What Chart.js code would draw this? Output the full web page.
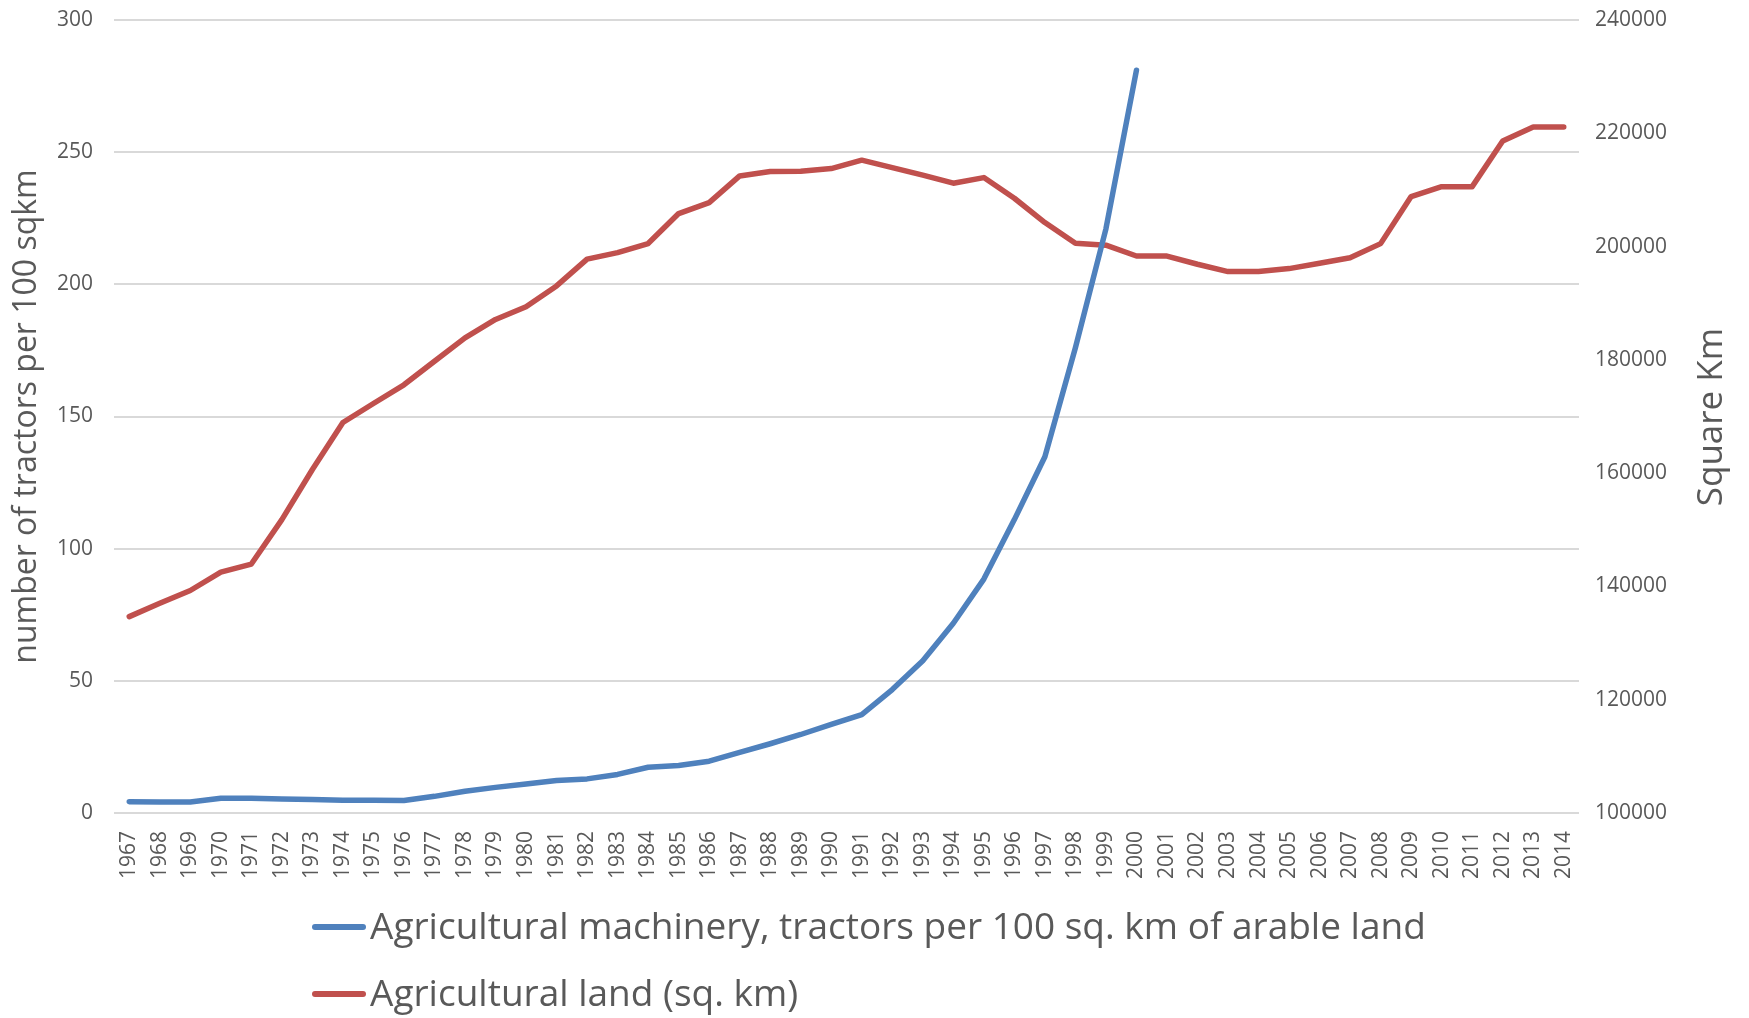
<!DOCTYPE html>
<html>
<head>
<meta charset="utf-8">
<title>Agricultural machinery and agricultural land</title>
<script src="https://cdn.jsdelivr.net/npm/chart.js@4.4.1/dist/chart.umd.min.js"></script>
<style>
  html, body { margin: 0; padding: 0; background: #fff; }
  #chart-wrap { position: relative; width: 1749px; height: 1018px; }
</style>
</head>
<body>
<div id="chart-wrap">
  <canvas id="js-chart-tractors"></canvas>
</div>
<script>
// Chart data
const years = [
  "1967", "1968", "1969", "1970", "1971", "1972", "1973", "1974", "1975", "1976",
  "1977", "1978", "1979", "1980", "1981", "1982", "1983", "1984", "1985", "1986",
  "1987", "1988", "1989", "1990", "1991", "1992", "1993", "1994", "1995", "1996",
  "1997", "1998", "1999", "2000", "2001", "2002", "2003", "2004", "2005", "2006",
  "2007", "2008", "2009", "2010", "2011", "2012", "2013", "2014"
];

// tractors per 100 sq. km of arable land (no data after 2000)
const tractors = [
  4.3, 4.2, 4.2, 5.6, 5.6, 5.3, 5.1, 4.8, 4.8, 4.7,
  6.3, 8.2, 9.7, 11.0, 12.3, 12.9, 14.6, 17.3, 18.0, 19.6,
  22.9, 26.2, 29.7, 33.5, 37.2, 46.7, 57.6, 71.8, 88.5, 111,
  134.8, 176, 221, 281, null, null, null, null, null, null,
  null, null, null, null, null, null, null, null
];

// agricultural land, sq. km
const agriLand = [
  134670, 137040, 139280, 142530, 143950, 151800, 160650, 168940, 172300, 175600,
  179750, 183870, 187130, 189370, 193050, 197780, 198930, 200540, 205830, 207760,
  212470, 213240, 213310, 213770, 215250, 213950, 212600, 211190, 212180, 208530,
  204240, 200580, 200250, 198340, 198320, 196880, 195590, 195590, 196110, 197050,
  198030, 200520, 208820, 210580, 210580, 218650, 221130, 221130
];

const seriesLabels = [
  "Agricultural machinery, tractors per 100 sq. km of arable land",
  "Agricultural land (sq. km)"
];

const leftTicks = { min: 0, max: 300, step: 50 };
const rightTicks = { min: 100000, max: 240000, step: 20000 };

const leftTitle = "number of tractors per 100 sqkm";
const rightTitle = "Square Km";

const textColor = "#595959";
const fontFamily = '"Open Sans", "Noto Sans", sans-serif';

// Right axis title reads bottom-to-top, which Chart.js doesn't do for right axes
const rightTitlePlugin = {
  id: "rightTitle",
  afterDraw(chart) {
    const ctx = chart.ctx;
    ctx.save();
    ctx.translate(1712, 417);
    ctx.rotate(-Math.PI / 2);
    ctx.font = "35px " + fontFamily;
    ctx.fillStyle = textColor;
    ctx.textAlign = "center";
    ctx.textBaseline = "middle";
    ctx.fillText(rightTitle, 0, 0);
    ctx.restore();
  },
};

// Legend stacked in two left-aligned rows below the axis
const stackedLegendPlugin = {
  id: "stackedLegend",
  afterDraw(chart) {
    const ctx = chart.ctx;
    const rows = [927, 994];
    ctx.save();
    ctx.font = "37px " + fontFamily;
    ctx.textBaseline = "middle";
    ctx.textAlign = "left";
    chart.data.datasets.forEach((ds, i) => {
      const y = rows[i];
      ctx.strokeStyle = ds.borderColor;
      ctx.lineWidth = 6;
      ctx.lineCap = "round";
      ctx.beginPath();
      ctx.moveTo(315, y);
      ctx.lineTo(363, y);
      ctx.stroke();
      ctx.fillStyle = textColor;
      ctx.fillText(ds.label, 370, y + 1);
    });
    ctx.restore();
  },
};

// fixed scale sizes so the plot area lands where the original one is
function fitVertical(width) {
  return (scale) => {
    scale.width = width;
    scale.paddingTop = 0;
    scale.paddingBottom = 0;
  };
}

const chartCon = document.getElementById("js-chart-tractors");

new Chart(chartCon, {
  type: "line",
  data: {
    labels: years,
    datasets: [
      {
        label: seriesLabels[0],
        data: tractors,
        yAxisID: "y",
        borderColor: "#4F81BD",
        backgroundColor: "#4F81BD",
        borderWidth: 5.5,
        pointRadius: 0,
        tension: 0,
        borderCapStyle: "round",
        borderJoinStyle: "round",
      },
      {
        label: seriesLabels[1],
        data: agriLand,
        yAxisID: "y1",
        borderColor: "#C0504D",
        backgroundColor: "#C0504D",
        borderWidth: 5.5,
        pointRadius: 0,
        tension: 0,
        borderCapStyle: "round",
        borderJoinStyle: "round",
      },
    ],
  },
  options: {
    responsive: true,
    maintainAspectRatio: false,
    animation: false,
    layout: {
      autoPadding: false,
      padding: { top: 20, left: 0, right: 0, bottom: 0 },
    },
    scales: {
      x: {
        offset: true,
        grid: { display: false },
        border: { display: false },
        ticks: {
          color: textColor,
          font: { family: fontFamily, size: 21 },
          autoSkip: false,
          maxRotation: 90,
          minRotation: 90,
          padding: 10,
        },
        afterFit(scale) {
          scale.height = 205;
          scale.paddingLeft = 0;
          scale.paddingRight = 0;
        },
      },
      y: {
        position: "left",
        min: leftTicks.min,
        max: leftTicks.max,
        grid: {
          color: "#D9D9D9",
          lineWidth: 2,
          drawTicks: false,
        },
        border: { display: false },
        ticks: {
          stepSize: leftTicks.step,
          color: textColor,
          font: { family: fontFamily, size: 21 },
          padding: 21,
        },
        title: {
          display: true,
          text: leftTitle,
          color: textColor,
          font: { family: fontFamily, size: 32 },
          padding: { top: 8, bottom: 0 },
        },
        afterFit: fitVertical(114),
      },
      y1: {
        position: "right",
        min: rightTicks.min,
        max: rightTicks.max,
        grid: { display: false, drawTicks: false },
        border: { display: false },
        ticks: {
          stepSize: rightTicks.step,
          color: textColor,
          font: { family: fontFamily, size: 21 },
          padding: 16,
          callback: (value) => String(value),
        },
        afterFit: fitVertical(170),
      },
    },
    plugins: {
      legend: { display: false },
      tooltip: { enabled: false },
    },
  },
  plugins: [rightTitlePlugin, stackedLegendPlugin],
});
</script>
</body>
</html>
